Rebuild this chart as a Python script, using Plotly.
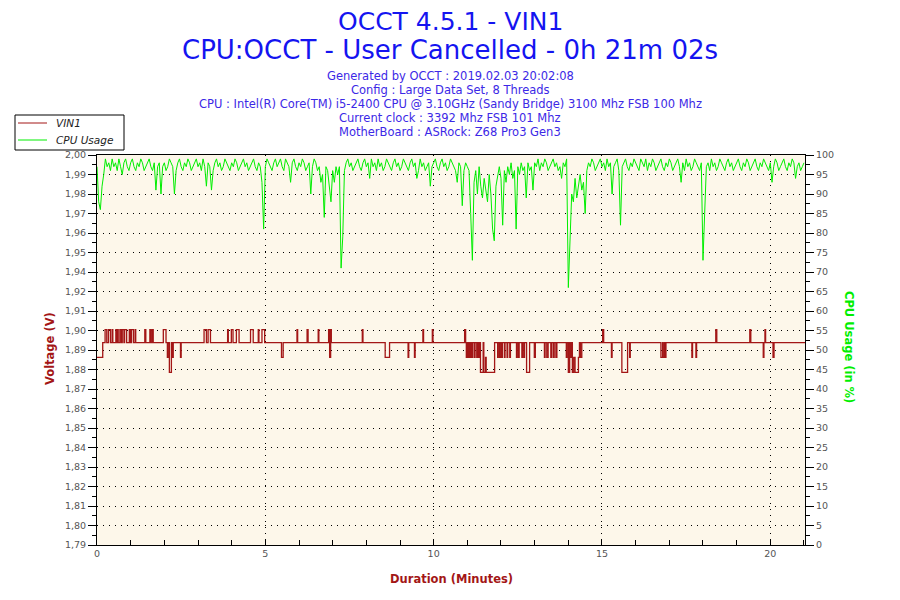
import plotly.graph_objects as go

# ---------------- data ----------------
# VIN1 voltage as a step series (time in minutes, volts)
volt_t = [0.00, 0.17, 0.24, 0.29, 0.34, 0.40, 0.45, 0.47, 0.56, 0.58, 0.60, 0.63, 0.68, 0.72, 0.75, 0.80,
          0.82, 0.88, 0.96, 0.99, 1.02, 1.08, 1.13, 1.15, 1.42, 1.45, 1.57, 1.60, 1.64, 1.67, 1.97, 2.05,
          2.09, 2.11, 2.15, 2.21, 2.245, 2.265, 2.48, 2.50, 3.18, 3.25, 3.30, 3.37, 3.88, 3.90, 3.99, 4.04,
          4.14, 4.22, 4.56, 4.64, 4.79, 4.81, 4.90, 4.98, 5.48, 5.53, 5.94, 5.96, 6.24, 6.27, 6.57, 6.59,
          6.88, 6.91, 6.94, 6.96, 7.88, 7.90, 8.56, 8.69, 9.24, 9.26, 9.43, 9.45, 9.68, 9.70, 9.96, 9.98,
          10.92, 10.95, 10.97, 10.99, 11.02, 11.04, 11.07, 11.09, 11.12, 11.15, 11.20, 11.23, 11.28, 11.30,
          11.33, 11.36, 11.39, 11.47, 11.49, 11.54, 11.56, 11.81, 11.90, 11.92, 11.96, 11.98, 12.02, 12.04,
          12.10, 12.12, 12.18, 12.20, 12.26, 12.28, 12.46, 12.48, 12.52, 12.54, 12.62, 12.64, 12.68, 12.70,
          12.76, 12.85, 12.99, 13.02, 13.29, 13.31, 13.36, 13.40, 13.48, 13.50, 13.55, 13.58, 13.63, 13.66,
          13.94, 13.96, 14.00, 14.04, 14.07, 14.09, 14.12, 14.16, 14.20, 14.30, 14.33, 14.36, 14.40, 15.02,
          15.05, 15.28, 15.30, 15.59, 15.76, 15.82, 15.84, 16.75, 16.80, 16.82, 16.86, 16.88, 16.90, 17.67,
          17.69, 17.79, 17.81, 18.38, 18.41, 19.39, 19.42, 19.79, 19.81, 19.84, 19.86, 20.08, 20.11, 21.03]
volt_v = [1.891, 1.899, 1.906, 1.899, 1.906, 1.899, 1.906, 1.899, 1.906, 1.899, 1.906, 1.899, 1.906, 1.899, 1.906, 1.899,
          1.906, 1.899, 1.906, 1.899, 1.906, 1.899, 1.906, 1.899, 1.906, 1.899, 1.906, 1.899, 1.906, 1.899, 1.906, 1.899,
          1.891, 1.899, 1.883, 1.899, 1.891, 1.899, 1.891, 1.899, 1.906, 1.899, 1.906, 1.899, 1.906, 1.899, 1.906, 1.899,
          1.906, 1.899, 1.906, 1.899, 1.906, 1.899, 1.906, 1.899, 1.891, 1.899, 1.906, 1.899, 1.906, 1.899, 1.906, 1.899,
          1.906, 1.891, 1.906, 1.899, 1.906, 1.899, 1.891, 1.899, 1.891, 1.899, 1.891, 1.899, 1.906, 1.899, 1.906, 1.899,
          1.906, 1.899, 1.891, 1.899, 1.891, 1.899, 1.891, 1.899, 1.891, 1.899, 1.891, 1.899, 1.891, 1.899,
          1.891, 1.899, 1.883, 1.899, 1.883, 1.891, 1.883, 1.899, 1.891, 1.899, 1.891, 1.899, 1.891, 1.899,
          1.891, 1.899, 1.891, 1.899, 1.891, 1.899, 1.891, 1.899, 1.891, 1.899, 1.891, 1.899, 1.891, 1.899,
          1.883, 1.899, 1.891, 1.899, 1.891, 1.899, 1.891, 1.899, 1.891, 1.899, 1.891, 1.899, 1.891, 1.899,
          1.891, 1.899, 1.883, 1.899, 1.891, 1.899, 1.883, 1.891, 1.883, 1.891, 1.899, 1.891, 1.899, 1.906,
          1.899, 1.891, 1.899, 1.883, 1.899, 1.891, 1.899, 1.891, 1.899, 1.891, 1.899, 1.891, 1.899, 1.891,
          1.899, 1.891, 1.899, 1.906, 1.899, 1.906, 1.899, 1.891, 1.899, 1.906, 1.899, 1.891, 1.899, 1.899]

# CPU usage (%), one reading every 0.05 minute from 0 to 21.00
cpu_step = 0.05
cpu_usage = [
    97, 88, 86, 92, 95, 99, 97, 98, 96, 99, 97, 98, 96, 99, 97, 95, 98, 99, 97, 96,
    98, 99, 97, 96, 98, 97, 99, 98, 96, 97, 98, 99, 97, 96, 98, 91, 97, 98, 90, 97,
    98, 96, 97, 99, 98, 97, 90, 96, 98, 99, 97, 96, 98, 97, 99, 98, 96, 97, 98, 99,
    97, 98, 96, 99, 97, 92, 98, 97, 91, 96, 98, 99, 97, 98, 96, 97, 99, 98, 97, 96,
    98, 97, 99, 98, 96, 97, 98, 99, 97, 98, 96, 97, 98, 99, 97, 96, 98, 97, 93, 81,
    97, 99, 98, 97, 96, 98, 99, 97, 98, 99, 97, 96, 99, 98, 97, 93, 98, 99, 97, 96,
    98, 97, 99, 98, 96, 97, 98, 90, 97, 99, 98, 96, 97, 93, 95, 84, 97, 96, 91, 88,
    96, 93, 97, 95, 97, 71, 79, 96, 98, 99, 97, 98, 96, 97, 98, 99, 97, 96, 98, 99,
    97, 98, 94, 99, 97, 98, 96, 99, 97, 98, 96, 97, 99, 98, 97, 96, 98, 99, 97, 98,
    96, 97, 99, 98, 97, 96, 98, 99, 97, 98, 94, 96, 99, 97, 98, 96, 97, 98, 92, 97,
    98, 99, 97, 96, 98, 99, 97, 98, 96, 97, 99, 98, 97, 96, 93, 98, 97, 87, 96, 98,
    97, 96, 85, 73, 93, 96, 90, 97, 92, 89, 94, 91, 88, 95, 90, 81, 78, 92, 95, 97,
    94, 82, 96, 93, 97, 95, 98, 94, 96, 81, 97, 95, 98, 96, 97, 89, 98, 96, 97, 91,
    98, 97, 99, 96, 98, 97, 99, 98, 96, 97, 98, 99, 97, 98, 96, 97, 94, 98, 97, 99,
    66, 81, 90, 88, 94, 89, 92, 95, 91, 93, 85, 96, 98, 97, 99, 98, 96, 97, 98, 99,
    97, 98, 96, 99, 97, 98, 90, 97, 98, 99, 96, 82, 97, 98, 99, 97, 96, 98, 97, 99,
    98, 97, 96, 99, 98, 97, 99, 96, 98, 97, 99, 98, 96, 97, 98, 99, 97, 96, 98, 97,
    99, 98, 96, 97, 98, 99, 97, 93, 98, 96, 99, 97, 98, 96, 97, 99, 98, 97, 96, 98,
    73, 85, 97, 98, 96, 99, 97, 98, 96, 97, 99, 98, 97, 96, 98, 99, 97, 98, 96, 97,
    98, 99, 97, 96, 98, 97, 99, 98, 96, 97, 98, 99, 97, 96, 98, 97, 99, 98, 97, 96,
    98, 93, 97, 99, 98, 96, 97, 98, 99, 97, 96, 98, 97, 99, 98, 94, 97, 98, 96, 97,
    98,
]
cpu_t = [i * cpu_step for i in range(len(cpu_usage))]

volt_tick_text = ["1,79", "1,80", "1,81", "1,82", "1,83", "1,84", "1,85", "1,86", "1,87", "1,88", "1,89",
                  "1,90", "1,91", "1,92", "1,94", "1,95", "1,96", "1,97", "1,98", "1,99", "2,00"]
volt_min, volt_max = 1.79, 2.00
volt_tick_vals = [volt_min + (volt_max - volt_min) * k / 20 for k in range(21)]
x_ticks = [0, 5, 10, 15, 20]
duration_min = 21.03

series_names = ["VIN1", "CPU Usage"]
title_lines = ["OCCT 4.5.1 - VIN1", "CPU:OCCT - User Cancelled - 0h 21m 02s"]
info_lines = [
    "Generated by OCCT : 2019.02.03 20:02:08",
    "Config : Large Data Set, 8 Threads",
    "CPU : Intel(R) Core(TM) i5-2400 CPU @ 3.10GHz (Sandy Bridge) 3100 Mhz FSB 100 Mhz",
    "Current clock : 3392 Mhz FSB 101 Mhz",
    "MotherBoard : ASRock: Z68 Pro3 Gen3",
]

# ---------------- figure ----------------
RED = "#a31616"
GREEN = "#00ee00"
FONT = "DejaVu Sans"
series_colors = [RED, GREEN]

fig = go.Figure()
fig.add_trace(go.Scatter(x=volt_t, y=volt_v, mode="lines", line=dict(color=RED, width=1.3, shape="hv"),
                         name=series_names[0], yaxis="y", showlegend=False))
fig.add_trace(go.Scatter(x=cpu_t, y=cpu_usage, mode="lines", line=dict(color=GREEN, width=1),
                         name=series_names[1], yaxis="y2", showlegend=False))

# page has an 8px body margin: the figure is drawn from (8, 8)
OFF = 8
PLOT_L, PLOT_R, PLOT_T, PLOT_B = 97, 805, 155, 545   # desired plot box in page pixels
W, H = 900 - OFF, 600 - OFF
L = PLOT_L - OFF
T = PLOT_T - OFF
R = W - (PLOT_R - OFF)
B = H - (PLOT_B - OFF)
pw, ph = PLOT_R - PLOT_L, PLOT_B - PLOT_T


def px_y(p):
    return (PLOT_B - p) / ph


def px_x(p):
    return (p - PLOT_L) / pw


annotations = []
annotations.append(dict(text=title_lines[0], x=px_x(450), xref="paper", y=px_y(21), yref="paper",
                        xanchor="center", yanchor="middle", showarrow=False,
                        font=dict(family=FONT, size=25, color="#1414f0")))
annotations.append(dict(text=title_lines[1], x=px_x(450), xref="paper", y=px_y(50), yref="paper",
                        xanchor="center", yanchor="middle", showarrow=False,
                        font=dict(family=FONT, size=26, color="#1414f0")))
for i, line in enumerate(info_lines):
    annotations.append(dict(text=line, x=px_x(450), xref="paper", y=px_y(76 + 14 * i), yref="paper",
                            xanchor="center", yanchor="middle", showarrow=False,
                            font=dict(family=FONT, size=11.5, color="#3c28e6")))
annotations.append(dict(text="<b>Voltage (V)</b>", x=px_x(50), xref="paper", y=px_y(349), yref="paper",
                        textangle=-90, xanchor="center", yanchor="middle", showarrow=False,
                        font=dict(family=FONT, size=11.5, color=RED)))
annotations.append(dict(text="<b>CPU Usage (in %)</b>", x=px_x(849), xref="paper", y=px_y(347), yref="paper",
                        textangle=90, xanchor="center", yanchor="middle", showarrow=False,
                        font=dict(family=FONT, size=11.5, color=GREEN)))
annotations.append(dict(text="<b>Duration (Minutes)</b>", x=px_x(451), xref="paper", y=px_y(579), yref="paper",
                        xanchor="center", yanchor="middle", showarrow=False,
                        font=dict(family=FONT, size=11.5, color=RED)))

# legend box drawn by hand (OCCT style: small framed box top-left)
shapes = [dict(type="rect", xref="paper", yref="paper", x0=px_x(15), x1=px_x(124), y0=px_y(150), y1=px_y(115),
               line=dict(color="black", width=1), fillcolor="white", layer="above")]
for i, (name, col) in enumerate(zip(series_names, series_colors)):
    yy = 123 + 17 * i
    shapes.append(dict(type="line", xref="paper", yref="paper", x0=px_x(18), x1=px_x(47),
                       y0=px_y(yy), y1=px_y(yy), line=dict(color=col, width=1), layer="above"))
    annotations.append(dict(text="<i>" + name + "</i>", x=px_x(54), xref="paper", y=px_y(yy), yref="paper",
                            xanchor="left", yanchor="middle", showarrow=False,
                            font=dict(family=FONT, size=10.5, color="#222222")))

tickfont = dict(family=FONT, size=9.5, color="#555555")
grid_dash = "1px,5px"

fig.update_layout(
    width=W, height=H,
    margin=dict(l=L, r=R, t=T, b=B),
    paper_bgcolor="white",
    plot_bgcolor="#fdf7ea",
    showlegend=False,
    annotations=annotations,
    shapes=shapes,
    xaxis=dict(range=[0, duration_min], tickmode="array", tickvals=x_ticks,
               ticks="inside", ticklen=5, tickcolor="black",
               showline=True, linecolor="black", linewidth=1, mirror=True,
               showgrid=True, gridcolor="black", griddash=grid_dash, gridwidth=1,
               zeroline=False, tickfont=tickfont,
               minor=dict(dtick=1, tick0=0, ticks="inside", ticklen=5, tickcolor="black", showgrid=False)),
    yaxis=dict(range=[volt_min, volt_max], tickmode="array", tickvals=volt_tick_vals, ticktext=volt_tick_text,
               ticks="outside", ticklen=8, tickcolor="black",
               showline=True, linecolor="black", linewidth=1,
               showgrid=True, gridcolor="black", griddash=grid_dash, gridwidth=1,
               zeroline=False, tickfont=tickfont,
               minor=dict(dtick=(volt_max - volt_min) / 40, tick0=volt_min, ticks="outside", ticklen=4,
                          tickcolor="black", showgrid=False)),
    yaxis2=dict(range=[0, 100], overlaying="y", side="right", tickmode="linear", tick0=0, dtick=5,
                ticks="outside", ticklen=8, tickcolor="black",
                showline=True, linecolor="black", linewidth=1,
                showgrid=False, zeroline=False, tickfont=tickfont,
                minor=dict(dtick=2.5, tick0=0, ticks="outside", ticklen=4, tickcolor="black", showgrid=False)),
)

fig.write_html("out.html")
